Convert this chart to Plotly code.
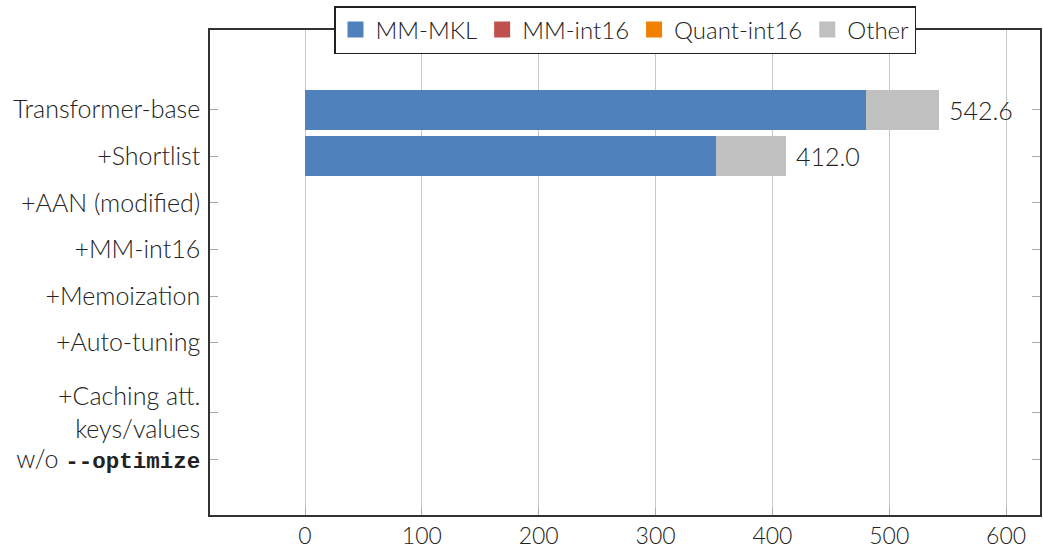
import plotly.graph_objects as go

categories = ["Transformer-base", "+Shortlist", "+AAN (modified)", "+MM-int16",
              "+Memoization", "+Auto-tuning", "+Caching att.<br>keys/values",
              "w/o <b><span style=\"font-family:'Liberation Mono';font-size:22.5px\">--optimize</span></b>"]
y_pos = [0, 1, 2, 3, 4, 5, 6.5, 7.5]
mm_mkl = [480.3, 352.0, None, None, None, None, None, None]
mm_int16 = [0, 0, None, None, None, None, None, None]
quant_int16 = [0, 0, None, None, None, None, None, None]
other = [62.3, 60.0, None, None, None, None, None, None]
totals = [542.6, 412.0]

series = [("MM-MKL", mm_mkl, "#4F81BD"), ("MM-int16", mm_int16, "#C0504D"),
          ("Quant-int16", quant_int16, "#F08000"), ("Other", other, "#C0C0C0")]

FONT = "Lato"
fig = go.Figure()
for name, vals, col in series:
    fig.add_trace(go.Bar(x=vals, y=y_pos, orientation="h", name=name, showlegend=False,
                         marker=dict(color=col, line=dict(width=0)), width=0.86))
for name, vals, col in series:
    fig.add_trace(go.Scatter(x=[None], y=[None], mode="markers", name=name,
                             marker=dict(symbol="square", size=16, color=col)))

for t, yp in zip(totals, y_pos):
    fig.add_annotation(x=t, y=yp, text=f"{t:.1f}", showarrow=False,
                       xanchor="left", yanchor="middle", xshift=8,
                       font=dict(size=25, color="#222", family=FONT, weight=300))

fig.update_layout(
    barmode="stack",
    width=1043, height=547,
    margin=dict(l=210, r=3, t=30, b=32, autoexpand=False),
    paper_bgcolor="white", plot_bgcolor="white",
    font=dict(family=FONT, size=24, color="#222", weight=300),
    legend=dict(orientation="h", x=0.5, xanchor="center", y=1.0, yanchor="middle",
                bordercolor="#222", borderwidth=1.5, bgcolor="white",
                font=dict(size=24, family=FONT, weight=300), traceorder="normal",
                itemwidth=30, tracegroupgap=0),
    showlegend=True,
)
fig.update_xaxes(range=[-81.3, 629], tickvals=[0, 100, 200, 300, 400, 500, 600],
                 showgrid=True, gridcolor="#c8c8c8", gridwidth=1,
                 zeroline=True, zerolinecolor="#c8c8c8", zerolinewidth=1,
                 showline=True, linecolor="#333", linewidth=1.5, mirror=True,
                 ticks="inside", ticklen=7, tickcolor="#aaa", automargin=False,
                 tickfont=dict(size=23, family=FONT, weight=300))
fig.update_yaxes(range=[8.7, -1.71], tickvals=y_pos, ticktext=categories,
                 showgrid=False, zeroline=False,
                 showline=True, linecolor="#333", linewidth=1.5, mirror="ticks",
                 ticks="inside", ticklen=8, tickcolor="#aaa", automargin=False,
                 ticklabelstandoff=3,
                 tickfont=dict(size=25, family=FONT, weight=300))

fig.write_html("out.html", config={"displayModeBar": False},
               post_script="document.body.style.margin='0';document.body.style.overflow='hidden';")
